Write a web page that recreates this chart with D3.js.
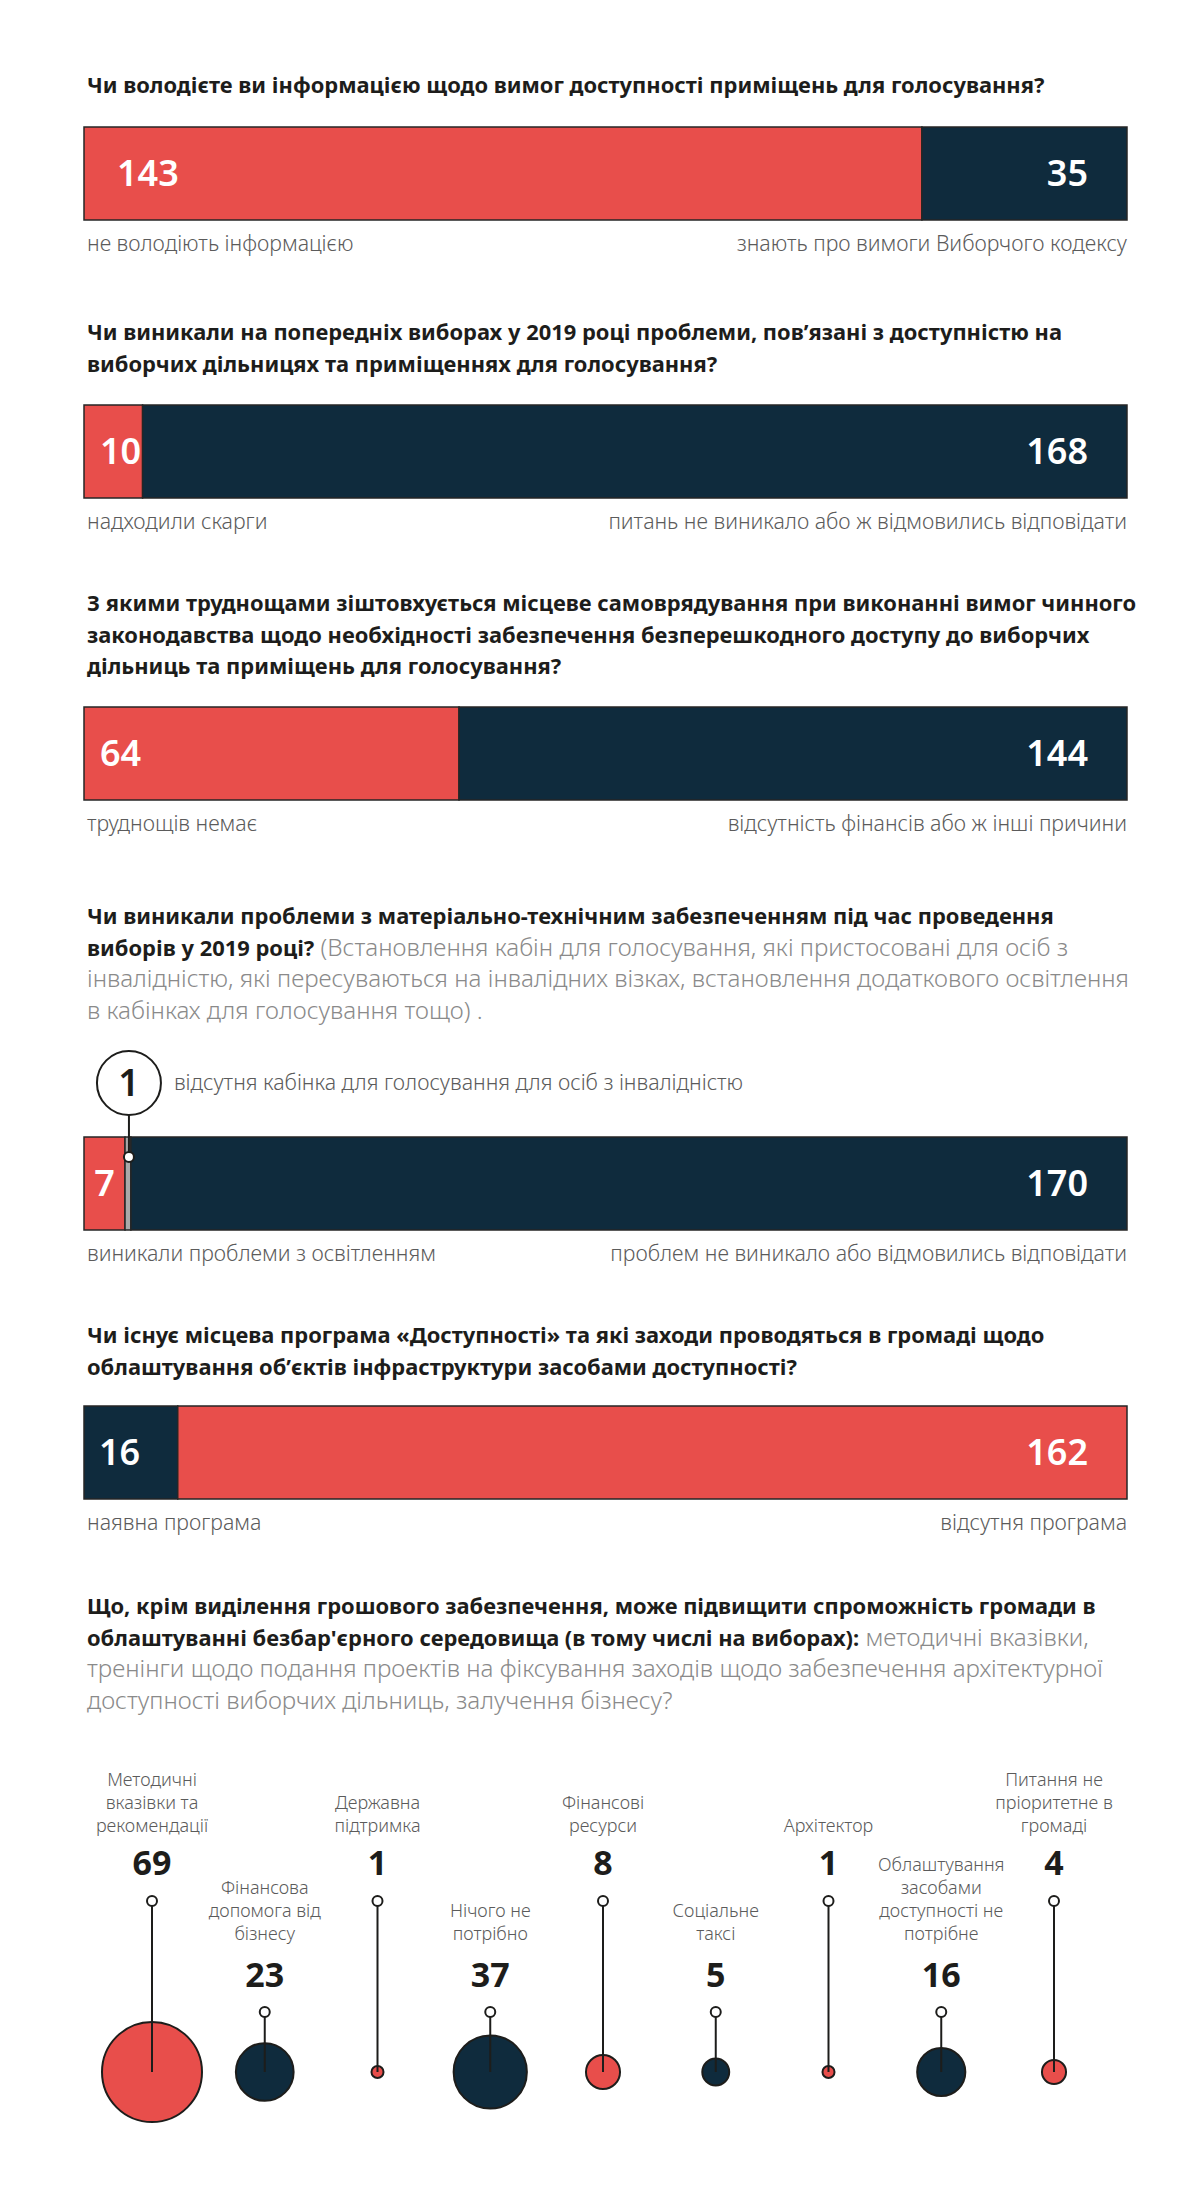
<!DOCTYPE html>
<html>
<head>
<meta charset="utf-8">
<script src="https://cdn.jsdelivr.net/npm/d3@7"></script>
<style>
  body { margin: 0; background: #fff; }
  svg { display: block; font-family: "Noto Sans", "Open Sans", sans-serif; }
</style>
</head>
<body>
<div id="chart"></div>
<script>
// ---- data ----
var respondents = 178;

var barTitles = [
    [["Чи володієте ви інформацією щодо вимог доступності приміщень для голосування?"]],
    [["Чи виникали на попередніх виборах у 2019 році проблеми, пов’язані з доступністю на"],
     ["виборчих дільницях та приміщеннях для голосування?"]],
    [["З якими труднощами зіштовхується місцеве самоврядування при виконанні вимог чинного"],
     ["законодавства щодо необхідності забезпечення безперешкодного доступу до виборчих"],
     ["дільниць та приміщень для голосування?"]],
    [["Чи виникали проблеми з матеріально-технічним забезпеченням під час проведення"],
     ["виборів у 2019 році?", " (Встановлення кабін для голосування, які пристосовані для осіб з"],
     ["", "інвалідністю, які пересуваються на інвалідних візках, встановлення додаткового освітлення"],
     ["", "в кабінках для голосування тощо) ."]],
    [["Чи існує місцева програма «Доступності» та які заходи проводяться в громаді щодо"],
     ["облаштування об’єктів інфраструктури засобами доступності?"]]
];

var barValues = [
    [143, 35],
    [10, 168],
    [64, 144],
    [7, 1, 170],
    [16, 162]
];

var barKinds = [
    ["yes", "no"],
    ["yes", "no"],
    ["yes", "no"],
    ["yes", "other", "no"],
    ["no", "yes"]
];

var leftLabels = [
    "не володіють інформацією",
    "надходили скарги",
    "труднощів немає",
    "виникали проблеми з освітленням",
    "наявна програма"
];

var rightLabels = [
    "знають про вимоги Виборчого кодексу",
    "питань не виникало або ж відмовились відповідати",
    "відсутність фінансів або ж інші причини",
    "проблем не виникало або відмовились відповідати",
    "відсутня програма"
];

var calloutValue = 1;
var calloutText = "відсутня кабінка для голосування для осіб з інвалідністю";

var bubbleTitle = [
    ["Що, крім виділення грошового забезпечення, може підвищити спроможність громади в"],
    ["облаштуванні безбар'єрного середовища (в тому числі на виборах):", " методичні вказівки,"],
    ["", "тренінги щодо подання проектів на фіксування заходів щодо забезпечення архітектурної"],
    ["", "доступності виборчих дільниць, залучення бізнесу?"]
];

var bubbleLabels = [
    ["Методичні", "вказівки та", "рекомендації"],
    ["Фінансова", "допомога від", "бізнесу"],
    ["Державна", "підтримка"],
    ["Нічого не", "потрібно"],
    ["Фінансові", "ресурси"],
    ["Соціальне", "таксі"],
    ["Архітектор"],
    ["Облаштування", "засобами", "доступності не", "потрібне"],
    ["Питання не", "пріоритетне в", "громаді"]
];

var bubbleValues = [69, 23, 1, 37, 8, 5, 1, 16, 4];

// ---- layout ----
var width = 1201, height = 2200;
var red = "#e84e4b", navy = "#0f2b3d", grey = "#a9a9a9", ink = "#1d1d1b";
var labelGrey = "#5b5b5b", paraGrey = "#8a8a8a";

var barTops = [127, 405, 707, 1137, 1406];
var titleTops = [93, 340, 611, 924, 1343];
var barHeight = 93;
var lineStep = 31.5;
var leftInsets = [33, 16, 16, 0, 15];
var labelSize = "21.3px";

var fill = { yes: red, no: navy, other: grey };

var svg = d3.select("#chart").append("svg")
    .attr("width", width)
    .attr("height", height);

svg.append("rect")
    .attr("width", width)
    .attr("height", height)
    .attr("fill", "#fff");

var x = d3.scaleLinear()
    .domain([0, respondents])
    .range([84, 1127]);

function drawTitle(lines, y0) {
    var t = svg.append("text")
        .attr("x", 87)
        .attr("y", y0);
    lines.forEach(function(parts, i) {
        parts.forEach(function(p, j) {
            if (!p) return;
            var span = t.append("tspan").text(p);
            if (j === 0 || (j === 1 && !parts[0])) span.attr("x", 87);
            span.attr("y", y0 + i * lineStep);
            if (j === 0) {
                span.style("font-weight", 700).style("font-size", "21.9px").attr("fill", ink);
            } else {
                span.style("font-weight", 300).style("font-size", "24.2px").attr("fill", paraGrey);
            }
        });
    });
}

barTitles.forEach(function(lines, b) {
    drawTitle(lines, titleTops[b]);

    var top = barTops[b];
    var vals = barValues[b];
    var g = svg.append("g").attr("class", "bar");

    var cum = 0;
    var segs = vals.map(function(v, i) {
        var s = { start: cum, end: i === vals.length - 1 ? respondents : cum + v, value: v, kind: barKinds[b][i] };
        cum += v;
        return s;
    });

    g.selectAll("rect")
        .data(segs)
        .enter().append("rect")
        .attr("x", function(d) { return x(d.start); })
        .attr("y", top)
        .attr("width", function(d) { return x(d.end) - x(d.start); })
        .attr("height", barHeight)
        .attr("fill", function(d) { return fill[d.kind]; })
        .attr("stroke", "#262626")
        .attr("stroke-width", 1.5);

    var first = segs[0], last = segs[segs.length - 1];
    var narrow = x(first.end) - x(first.start) < 50;

    g.append("text")
        .attr("x", narrow ? (x(first.start) + x(first.end)) / 2 : x(first.start) + leftInsets[b])
        .attr("y", top + barHeight / 2)
        .attr("dy", "0.36em")
        .attr("text-anchor", narrow ? "middle" : "start")
        .attr("fill", "#fff")
        .style("font-size", "36px")
        .style("font-weight", 600)
        .text(first.value);

    g.append("text")
        .attr("x", x(respondents) - 39)
        .attr("y", top + barHeight / 2)
        .attr("dy", "0.36em")
        .attr("text-anchor", "end")
        .attr("fill", "#fff")
        .style("font-size", "36px")
        .style("font-weight", 600)
        .text(last.value);

    g.append("text")
        .attr("x", x(0) + 3)
        .attr("y", top + barHeight + 31)
        .attr("fill", labelGrey)
        .style("font-size", labelSize)
        .style("font-weight", 300)
        .text(leftLabels[b]);

    g.append("text")
        .attr("x", x(respondents))
        .attr("y", top + barHeight + 31)
        .attr("text-anchor", "end")
        .attr("fill", labelGrey)
        .style("font-size", labelSize)
        .style("font-weight", 300)
        .text(rightLabels[b]);

    // callout for the small grey segment
    var mid = segs.filter(function(d) { return d.kind === "other"; })[0];
    if (mid) {
        var cx = x((mid.start + mid.end) / 2) + 1;
        var cy = top - 54, r = 32;
        g.append("line")
            .attr("x1", cx).attr("x2", cx)
            .attr("y1", cy + r).attr("y2", top + 20)
            .attr("stroke", ink)
            .attr("stroke-width", 2);
        g.append("circle")
            .attr("cx", cx).attr("cy", cy).attr("r", r)
            .attr("fill", "#fff")
            .attr("stroke", ink)
            .attr("stroke-width", 2);
        g.append("circle")
            .attr("cx", cx).attr("cy", top + 20).attr("r", 5)
            .attr("fill", "#fff")
            .attr("stroke", ink)
            .attr("stroke-width", 2);
        g.append("text")
            .attr("x", cx)
            .attr("y", cy)
            .attr("dy", "0.36em")
            .attr("text-anchor", "middle")
            .attr("fill", ink)
            .style("font-size", "37px")
            .style("font-weight", 600)
            .text(calloutValue);
        g.append("text")
            .attr("x", cx + 45)
            .attr("y", cy + 7)
            .attr("fill", labelGrey)
            .style("font-size", labelSize)
            .style("font-weight", 300)
            .text(calloutText);
    }
});

// ---- bubbles ----
drawTitle(bubbleTitle, 1614);

var bx = d3.scalePoint()
    .domain(d3.range(bubbleValues.length))
    .range([152, 1054]);

var r = d3.scaleSqrt()
    .domain([0, 69])
    .range([0, 50]);

var bubbleY = 2072;
var rows = [
    { labelBase: 1832, number: 1875, pin: 1901 },
    { labelBase: 1940, number: 1987, pin: 2012 }
];

var item = svg.append("g").attr("class", "bubbles")
    .selectAll("g")
    .data(bubbleValues)
    .enter().append("g")
    .attr("transform", function(d, i) { return "translate(" + bx(i) + ",0)"; });

item.append("circle")
    .attr("cy", bubbleY)
    .attr("r", function(d) { return r(d); })
    .attr("fill", function(d, i) { return i % 2 ? navy : red; })
    .attr("stroke", ink)
    .attr("stroke-width", 2);

item.append("line")
    .attr("y1", function(d, i) { return rows[i % 2].pin; })
    .attr("y2", bubbleY)
    .attr("stroke", ink)
    .attr("stroke-width", 2);

item.append("circle")
    .attr("cy", function(d, i) { return rows[i % 2].pin; })
    .attr("r", 5)
    .attr("fill", "#fff")
    .attr("stroke", ink)
    .attr("stroke-width", 2);

item.append("text")
    .attr("y", function(d, i) { return rows[i % 2].number; })
    .attr("text-anchor", "middle")
    .attr("fill", ink)
    .style("font-size", "34px")
    .style("font-weight", 700)
    .text(function(d) { return d; });

item.append("text")
    .attr("text-anchor", "middle")
    .attr("fill", labelGrey)
    .style("font-size", "18px")
    .style("font-weight", 300)
    .each(function(d, i) {
        var lines = bubbleLabels[i];
        var base = rows[i % 2].labelBase;
        d3.select(this).selectAll("tspan")
            .data(lines)
            .enter().append("tspan")
            .attr("x", 0)
            .attr("y", function(l, k) { return base - (lines.length - 1 - k) * 23; })
            .text(function(l) { return l; });
    });
</script>
</body>
</html>
